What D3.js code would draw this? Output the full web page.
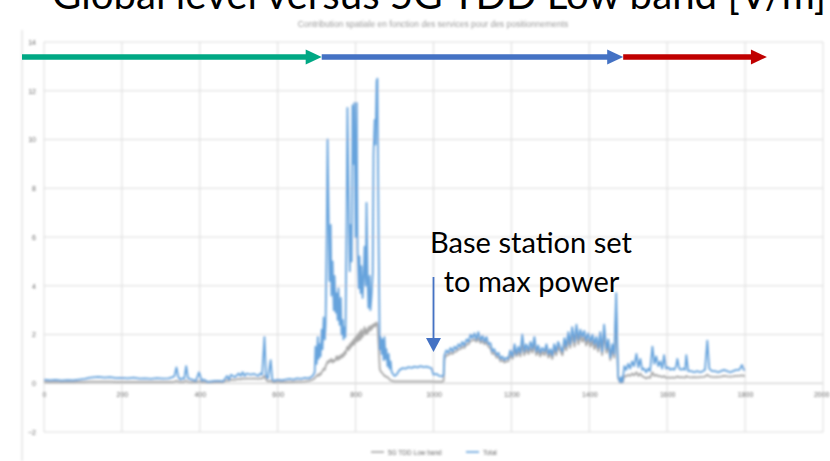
<!DOCTYPE html>
<html>
<head>
<meta charset="utf-8">
<script src="https://cdn.jsdelivr.net/npm/d3@7/dist/d3.min.js"></script>
<style>
  body { margin: 0; background: #fff; }
  svg { display: block; }
</style>
</head>
<body>
<script>
// Measurement sample number along the walk
const sampleIndex = [
  0,15,30,45,60,75,90,105,115,125,140,155,170,185,200,215,230,245,260,275,290,305,
  320,330,335,340,345,350,355,360,365,370,380,390,398,405,410,420,430,440,450,460,
  470,475,480,490,500,505,510,515,520,530,540,550,555,560,566,570,575,582,586,590,
  600,610,620,630,640,650,660,670,680,690,
  695,697,700,703,705,708,710,713,715,718,721,723,726,728,731,733,736,738,741,744,
  746,749,751,754,756,759,762,764,767,769,772,774,777,779,782,785,787,790,792,795,
  797,800,803,805,808,810,813,815,818,821,823,826,828,831,833,836,838,841,844,846,
  849,851,854,856,859,862,864,867,869,872,874,877,879,882,885,887,890,892,895,900,
  905,913,921,928,936,944,951,959,967,974,982,990,995,1000,1008,1015,1023,1026,
  1028,1033,1038,1044,1049,1054,1059,1064,1069,1074,1079,1085,1090,1095,1100,1105,
  1110,1115,1121,1126,1131,1136,1141,1146,1151,1156,1162,1167,1172,1177,1182,1187,
  1192,1197,1203,1208,1213,1218,1223,1228,1233,1238,1244,1249,1254,1259,1264,1269,
  1274,1279,1285,1290,1295,1300,1305,1310,1315,1320,1326,1331,1336,1341,1346,1351,
  1356,1362,1367,1372,1377,1382,1387,1392,1397,1403,1408,1413,1418,1423,1428,1433,
  1438,1444,1449,1454,1459,1464,1469,1472,1474,1479,
  1482,1485,1487,1490,1495,1500,1505,1510,1515,1521,1526,1531,1536,1541,1546,1551,
  1556,1562,1567,1572,1577,1582,1587,1592,1597,1603,1608,1613,1618,1623,1626,1631,
  1636,1641,1646,1649,1654,1662,1669,1677,1685,1692,1697,1703,1708,1715,1723,1731,
  1738,1746,1754,1762,1769,1777,1785,1792,1797,1800
];

// Global (total) field level, V/m
const totalLevel = [
  0.15,0.12,0.14,0.11,0.13,0.12,0.15,0.18,0.22,0.24,0.26,0.23,0.25,0.21,0.22,0.2,0.23,0.19,0.2,0.18,0.21,0.19,
  0.2,0.25,0.3,0.65,0.25,0.15,0.2,0.18,0.7,0.2,0.15,0.1,0.45,0.1,0.15,0.06,0.08,0.1,0.1,0.08,
  0.3,0.15,0.35,0.25,0.4,0.3,0.45,0.3,0.4,0.35,0.38,0.3,0.4,0.35,1.9,0.3,0.2,0.95,0.15,0.1,
  0.15,0.12,0.15,0.18,0.15,0.2,0.18,0.22,0.2,0.3,
  0.45,1.5,0.8,1.9,1.0,1.6,1.1,2.2,1.4,2.7,1.8,2.4,6.4,10.0,6.6,4.2,6.5,3.6,5.0,3.0,
  4.4,2.9,3.7,2.6,3.9,2.4,3.5,2.0,2.6,1.8,2.3,1.9,7.0,11.3,7.8,4.6,6.5,5.0,11.4,9.0,
  11.5,6.0,11.5,5.5,3.9,5.2,3.7,4.8,3.5,4.5,5.6,4.0,7.4,4.2,3.1,4.4,3.0,3.6,4.5,9.4,
  10.8,9.8,12.4,12.5,6.0,1.4,1.9,1.2,1.8,0.95,1.9,1.0,1.4,0.7,1.2,0.6,0.9,0.5,0.4,0.3,
  0.35,0.55,0.62,0.6,0.66,0.63,0.68,0.65,0.7,0.66,0.68,0.64,0.62,0.35,0.38,0.3,0.28,0.35,
  1.15,1.35,1.25,1.45,1.3,1.5,1.4,1.6,1.5,1.7,1.55,1.8,1.7,2.0,1.85,2.05,
  1.8,2.1,1.75,1.95,1.7,1.9,1.6,1.65,1.3,1.4,1.15,1.25,1.0,1.1,0.95,1.05,
  1.0,1.35,1.1,1.6,1.2,1.5,1.25,2.0,1.3,1.6,1.35,1.7,1.4,1.9,1.3,1.55,
  1.25,1.45,1.3,1.6,1.2,1.4,1.15,1.6,1.3,1.7,1.45,1.3,1.85,1.5,2.1,1.6,
  2.3,1.7,2.4,1.8,2.2,1.9,2.15,1.75,2.05,1.7,2.0,1.6,1.9,1.45,2.1,1.3,
  2.4,1.4,1.8,1.05,1.6,1.2,3.7,1.5,0.3,0.05,
  0.25,0.05,0.3,0.7,0.55,0.8,0.6,0.9,0.7,1.2,0.65,1.0,0.55,0.6,0.45,0.6,
  0.5,1.5,0.8,1.1,0.7,0.9,0.6,1.15,0.6,0.65,0.55,0.6,0.55,0.7,1.0,0.6,
  0.55,0.6,0.55,1.15,0.5,0.5,0.45,0.5,0.45,0.5,0.55,1.75,0.6,0.5,0.5,0.45,
  0.5,0.55,0.5,0.45,0.5,0.55,0.55,0.75,0.55,0.55
];

// 5G TDD low band contribution, V/m
const lowBandLevel = [
  0.06,0.05,0.05,0.05,0.05,0.05,0.06,0.06,0.07,0.07,0.07,0.07,0.07,0.06,0.06,0.06,0.06,0.06,0.06,0.06,0.06,0.06,
  0.06,0.06,0.07,0.1,0.07,0.06,0.06,0.06,0.1,0.06,0.05,0.05,0.08,0.05,0.05,0.04,0.04,0.05,0.05,0.05,
  0.12,0.1,0.15,0.14,0.18,0.16,0.2,0.18,0.2,0.19,0.2,0.18,0.2,0.19,0.3,0.15,0.08,0.1,0.06,0.05,
  0.05,0.05,0.05,0.06,0.06,0.07,0.07,0.08,0.1,0.15,
  0.2,0.25,0.3,0.35,0.3,0.4,0.35,0.45,0.5,0.6,0.55,0.7,0.8,0.9,0.85,0.95,0.9,1.0,0.85,0.95,
  0.9,1.0,1.1,0.95,1.1,1.0,1.15,1.05,1.2,1.1,1.3,1.2,1.4,1.5,1.35,1.6,1.45,1.7,1.55,1.8,
  1.6,1.9,1.7,2.0,1.75,2.1,1.8,2.2,1.9,2.1,2.3,2.0,2.2,2.05,2.3,2.15,2.35,2.2,2.4,2.3,
  2.45,2.35,2.5,2.4,1.6,0.6,0.5,0.45,0.4,0.35,0.3,0.3,0.25,0.25,0.2,0.15,0.12,0.1,0.1,0.08,
  0.08,0.08,0.08,0.08,0.08,0.08,0.08,0.08,0.08,0.08,0.08,0.08,0.08,0.07,0.07,0.07,0.07,0.1,
  1.0,1.15,1.15,1.25,1.2,1.3,1.3,1.4,1.4,1.5,1.45,1.6,1.6,1.75,1.75,1.8,
  1.7,1.85,1.65,1.75,1.6,1.7,1.5,1.45,1.2,1.25,1.05,1.1,0.9,0.95,0.85,0.9,
  0.9,1.15,1.0,1.35,1.1,1.3,1.1,1.6,1.15,1.4,1.2,1.45,1.25,1.6,1.15,1.35,
  1.1,1.3,1.15,1.4,1.05,1.25,1.0,1.4,1.15,1.5,1.3,1.15,1.6,1.35,1.8,1.45,
  2.0,1.5,2.1,1.6,1.95,1.7,1.9,1.55,1.8,1.5,1.75,1.4,1.65,1.3,1.8,1.15,
  2.0,1.25,1.55,0.95,1.4,1.05,2.9,1.2,0.2,0.04,
  0.05,0.04,0.1,0.3,0.28,0.35,0.3,0.4,0.32,0.45,0.3,0.4,0.28,0.25,0.2,0.25,
  0.22,0.45,0.3,0.35,0.28,0.3,0.25,0.3,0.22,0.24,0.22,0.24,0.22,0.25,0.28,0.24,
  0.25,0.24,0.23,0.3,0.25,0.24,0.25,0.24,0.25,0.26,0.27,0.35,0.28,0.26,0.25,0.26,
  0.27,0.3,0.28,0.27,0.28,0.3,0.3,0.32,0.3,0.3
];

const seriesNames = ["5G TDD Low band", "Total"];
const xTickValues = d3.range(0, 2001, 200);
const yTickValues = d3.range(-2, 15, 2);
// Sample numbers where the test phase changes
const phaseEnds = [713, 1487, 1856];
const annotationSample = 1000;

const W = 830, H = 461;
const colors = { total: "#66a3dc", low: "#a8a8a8", grid: "#dcdcdc" };
const phaseColors = ["#00a884", "#4472c4", "#c00000"];

const svg = d3.select("body").append("svg").attr("width", W).attr("height", H);

const defs = svg.append("defs");
defs.append("filter").attr("id", "soft")
  .attr("x", "-5%").attr("y", "-5%").attr("width", "110%").attr("height", "110%")
  .append("feGaussianBlur").attr("stdDeviation", 0.95);

const x = d3.scaleLinear().domain([0, 2000]).range([44, 823]);
const y = d3.scaleLinear().domain([-2, 14]).range([432, 42]);

const chart = svg.append("g").attr("filter", "url(#soft)");

// chart area border
chart.append("line").attr("x1", 22).attr("x2", 22).attr("y1", 30).attr("y2", H)
  .attr("stroke", "#d6d6d6").attr("stroke-width", 1);

// subtitle
chart.append("text").attr("x", 433).attr("y", 27).attr("text-anchor", "middle")
  .attr("font-family", "Liberation Sans, Arial, sans-serif").attr("font-size", 8.5)
  .attr("fill", "#9a9a9a")
  .text("Contribution spatiale en fonction des services pour des positionnements");

// gridlines
chart.append("g").selectAll("line").data(yTickValues).join("line")
  .attr("x1", x(0)).attr("x2", x(2000)).attr("y1", d => y(d)).attr("y2", d => y(d))
  .attr("stroke", d => d === 0 ? "#c4c4c4" : colors.grid).attr("stroke-width", 1);
chart.append("g").selectAll("line").data(xTickValues).join("line")
  .attr("x1", d => x(d)).attr("x2", d => x(d)).attr("y1", y(14)).attr("y2", y(-2))
  .attr("stroke", colors.grid).attr("stroke-width", 1);

// axis labels
const axisFont = "Liberation Sans, Arial, sans-serif";
const yAxis = d3.axisLeft(y).tickValues(yTickValues).tickSize(0).tickPadding(8).tickFormat(d3.format("d"));
const gy = chart.append("g").attr("transform", `translate(${x(0)},0)`).call(yAxis);
gy.select(".domain").remove();
gy.selectAll("text").attr("font-family", axisFont).attr("font-size", 7).attr("fill", "#6a6a6a");

const xAxis = d3.axisBottom(x).tickValues(xTickValues).tickSize(0).tickPadding(9).tickFormat(d3.format("d"));
const gx = chart.append("g").attr("transform", `translate(0,${y(0)})`).call(xAxis);
gx.select(".domain").remove();
gx.selectAll("text").attr("font-family", axisFont).attr("font-size", 7).attr("fill", "#6a6a6a");
// the last label sits on the right edge: keep it inside the frame
gx.selectAll("text").filter(d => d === 2000).attr("text-anchor", "end").attr("dx", 6);

// series
const rows = sampleIndex.map((s, i) => ({ s, total: totalLevel[i], low: lowBandLevel[i] }));
const lineOf = key => d3.line().x(d => x(d.s)).y(d => y(d[key]));
chart.append("path").datum(rows).attr("d", lineOf("low"))
  .attr("fill", "none").attr("stroke", colors.low).attr("stroke-width", 1.8)
  .attr("stroke-linejoin", "round");
chart.append("path").datum(rows).attr("d", lineOf("total"))
  .attr("fill", "none").attr("stroke", colors.total).attr("stroke-width", 1.8)
  .attr("stroke-linejoin", "round");

// legend
const legend = chart.append("g").attr("transform", "translate(0,452)");
const legendItems = [
  { name: seriesNames[0], color: colors.low, x0: 371 },
  { name: seriesNames[1], color: colors.total, x0: 466 }
];
legendItems.forEach(it => {
  legend.append("line").attr("x1", it.x0).attr("x2", it.x0 + 13).attr("y1", 0).attr("y2", 0)
    .attr("stroke", it.color).attr("stroke-width", 1.6);
  legend.append("text").attr("x", it.x0 + 17).attr("y", 2.5)
    .attr("font-family", axisFont).attr("font-size", 6.5).attr("fill", "#6a6a6a").text(it.name);
});

// helper: scale a text's font size so it spans a given width
function fitWidth(sel, width) {
  const fs = parseFloat(sel.attr("font-size"));
  const w = sel.node().getComputedTextLength();
  if (w > 0) sel.attr("font-size", fs * width / w);
  return parseFloat(sel.attr("font-size"));
}

// main title (runs off the top edge of the frame)
const title = svg.append("text").attr("x", 439).attr("y", 9).attr("text-anchor", "middle")
  .attr("font-family", "Lato, 'Open Sans', sans-serif").attr("font-size", 36).attr("fill", "#000")
  .text("Global level versus 5G TDD Low band [V/m]");
fitWidth(title, 774);

// test phase arrows across the top
const arrowY = 57, shaft = 5.5, headLen = 16, headHalf = 7.5;
let startX = 22;
phaseEnds.forEach((end, i) => {
  const ex = x(end);
  svg.append("rect").attr("x", startX).attr("y", arrowY - shaft / 2)
    .attr("width", ex - headLen - startX + 1).attr("height", shaft).attr("fill", phaseColors[i]);
  svg.append("path")
    .attr("d", `M${ex - headLen},${arrowY - headHalf}L${ex},${arrowY}L${ex - headLen},${arrowY + headHalf}Z`)
    .attr("fill", phaseColors[i]);
  startX = ex;
});

// annotation: base station set to max power
const ax = x(annotationSample);
svg.append("line").attr("x1", ax).attr("x2", ax).attr("y1", 277).attr("y2", 340)
  .attr("stroke", "#4472c4").attr("stroke-width", 1.8);
svg.append("path").attr("d", `M${ax - 7.5},338L${ax + 7.5},338L${ax},352Z`).attr("fill", "#4472c4");

const note1 = svg.append("text").attr("x", 531).attr("y", 253).attr("text-anchor", "middle")
  .attr("font-family", "Lato, 'Open Sans', sans-serif").attr("font-size", 26).attr("fill", "#000")
  .text("Base station set");
const fs = fitWidth(note1, 202);
svg.append("text").attr("x", 531.5).attr("y", 292).attr("text-anchor", "middle")
  .attr("font-family", "Lato, 'Open Sans', sans-serif").attr("font-size", fs).attr("fill", "#000")
  .text("to max power");
</script>
</body>
</html>
